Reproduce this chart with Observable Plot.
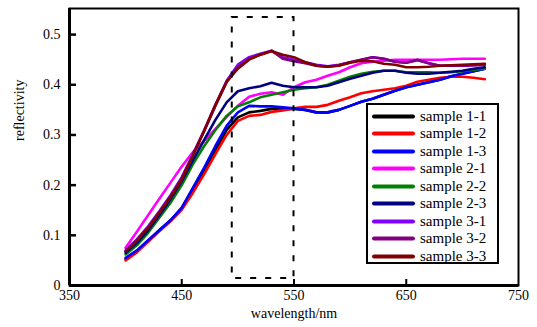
<!DOCTYPE html>
<html><head><meta charset="utf-8">
<script src="https://cdn.jsdelivr.net/npm/d3@7"></script>
<script src="https://cdn.jsdelivr.net/npm/@observablehq/plot@0.6"></script>
<style>
body{margin:0;background:#fff;}
#wrap{position:relative;width:537px;height:327px;font-family:"Liberation Serif","DejaVu Serif",serif;}
#legend{position:absolute;left:366px;top:103px;width:129px;height:157px;border:2px solid #000;background:#fff;}
#legend .row{position:absolute;left:0;height:17px;display:flex;align-items:center;font-family:"Liberation Serif",serif;font-size:15px;color:#000;}
</style></head>
<body><div id="wrap"></div>
<script>
const wavelengths = [400,410,420,430,440,450,460,470,480,490,500,510,520,530,540,550,560,570,580,590,600,610,620,630,640,650,660,670,680,690,700,710,720];
const seriesNames = ["sample 1-1","sample 1-2","sample 1-3","sample 2-1","sample 2-2","sample 2-3","sample 3-1","sample 3-2","sample 3-3"];
const seriesColors = ["#000000","#ff0000","#0000ff","#ff00ff","#008000","#000080","#8000ff","#800080","#800000"];
const s11 = [0.053,0.068,0.089,0.11,0.13,0.154,0.192,0.23,0.27,0.31,0.335,0.345,0.348,0.352,0.352,0.352,0.35,0.345,0.345,0.35,0.358,0.366,0.372,0.38,0.388,0.395,0.4,0.405,0.41,0.417,0.422,0.427,0.432];
const s12 = [0.05,0.066,0.087,0.108,0.128,0.151,0.185,0.222,0.262,0.3,0.328,0.338,0.34,0.346,0.349,0.353,0.356,0.356,0.36,0.368,0.375,0.383,0.387,0.39,0.393,0.398,0.406,0.41,0.414,0.416,0.416,0.414,0.411];
const s13 = [0.055,0.07,0.09,0.11,0.13,0.155,0.195,0.235,0.278,0.318,0.345,0.358,0.357,0.357,0.355,0.353,0.35,0.345,0.345,0.35,0.358,0.366,0.372,0.38,0.388,0.395,0.4,0.405,0.41,0.417,0.422,0.427,0.432];
const s21 = [0.075,0.107,0.14,0.173,0.205,0.237,0.266,0.288,0.312,0.336,0.358,0.376,0.382,0.385,0.38,0.395,0.405,0.41,0.418,0.425,0.435,0.443,0.446,0.448,0.45,0.45,0.45,0.45,0.45,0.451,0.452,0.452,0.452];
const s22 = [0.062,0.08,0.105,0.135,0.165,0.2,0.242,0.278,0.31,0.338,0.357,0.365,0.375,0.38,0.385,0.39,0.393,0.395,0.4,0.408,0.416,0.422,0.426,0.428,0.428,0.425,0.425,0.425,0.424,0.425,0.427,0.43,0.432];
const s23 = [0.065,0.085,0.11,0.14,0.172,0.208,0.25,0.29,0.33,0.365,0.387,0.393,0.397,0.404,0.398,0.395,0.395,0.395,0.398,0.405,0.412,0.418,0.424,0.428,0.428,0.424,0.422,0.422,0.424,0.426,0.428,0.432,0.435];
const s31 = [0.07,0.092,0.118,0.148,0.18,0.216,0.262,0.31,0.36,0.408,0.44,0.455,0.462,0.468,0.455,0.45,0.445,0.44,0.437,0.44,0.445,0.45,0.455,0.452,0.446,0.444,0.449,0.443,0.438,0.438,0.438,0.439,0.44];
const s32 = [0.068,0.09,0.115,0.145,0.177,0.212,0.26,0.308,0.358,0.405,0.435,0.452,0.46,0.468,0.452,0.447,0.443,0.438,0.436,0.439,0.445,0.45,0.455,0.452,0.446,0.444,0.45,0.443,0.438,0.438,0.438,0.439,0.44];
const s33 = [0.068,0.09,0.115,0.145,0.177,0.212,0.26,0.308,0.36,0.406,0.432,0.45,0.46,0.467,0.46,0.455,0.445,0.438,0.436,0.438,0.444,0.448,0.447,0.442,0.44,0.435,0.435,0.436,0.438,0.439,0.44,0.441,0.442];
const seriesValues = [s11,s12,s13,s21,s22,s23,s31,s32,s33];
const xTicks = [350,450,550,650,750];
const yTicks = [0.1,0.2,0.3,0.4,0.5];
const yTickLabels = [0,0.1,0.2,0.3,0.4,0.5];
const boxRange = {x1:495, x2:550, y1:0.014, y2:0.534};

const rows = [];
seriesNames.forEach((name,i)=>wavelengths.forEach((w,j)=>rows.push({series:name,wl:w,r:seriesValues[i][j]})));

const font = "Liberation Serif";
const chart = Plot.plot({
  width:537, height:327,
  marginLeft:69, marginRight:19, marginTop:8, marginBottom:42,
  style:{fontFamily:font, fontSize:"14px", color:"#000", background:"#fff"},
  x:{domain:[350,750]},
  y:{domain:[0,0.552]},
  color:{domain:seriesNames, range:seriesColors},
  marks:[
    Plot.lineY(rows,{x:"wl", y:"r", z:"series", stroke:"series", strokeWidth:2.6}),
    Plot.rect([boxRange],{x1:"x1",x2:"x2",y1:"y1",y2:"y2",fill:"none",stroke:"#000",strokeWidth:2,strokeDasharray:"6,9"}),
    Plot.axisX(xTicks,{tickSize:0, tickPadding:5, tickFormat:d=>String(d), label:null, fontSize:14}),
    Plot.axisX(xTicks.slice(1,-1),{tickSize:-6, strokeWidth:2, text:null, label:null}),
    Plot.axisY(yTickLabels,{tickSize:0, tickPadding:9, tickFormat:d=>d===0?"0":String(d), label:null, fontSize:14}),
    Plot.axisY(yTicks,{tickSize:-7, strokeWidth:2.5, text:null, label:null}),
    Plot.frame({stroke:"#000", strokeWidth:2}),
    Plot.ruleX([350],{stroke:"#000", strokeWidth:3}),
    Plot.ruleY([0],{stroke:"#000", strokeWidth:3}),
    Plot.text(["reflectivity"],{frameAnchor:"left", dx:-50, dy:-6, rotate:-90, fontSize:14}),
    Plot.text(["wavelength/nm"],{frameAnchor:"bottom", dy:32, fontSize:14})
  ]
});
const wrap = document.getElementById("wrap");
wrap.appendChild(chart);
const lg = document.createElement("div");
lg.id = "legend";
seriesNames.forEach((name,i)=>{
  const r = document.createElement("div");
  r.className = "row";
  r.style.top = (3 + i*17.45) + "px";
  r.innerHTML = `<svg width="52" height="17"><line x1="6" x2="45" y1="8.5" y2="8.5" stroke="${seriesColors[i]}" stroke-width="4" stroke-linecap="round"/></svg><span>${name}</span>`;
  lg.appendChild(r);
});
wrap.appendChild(lg);
</script></body></html>
